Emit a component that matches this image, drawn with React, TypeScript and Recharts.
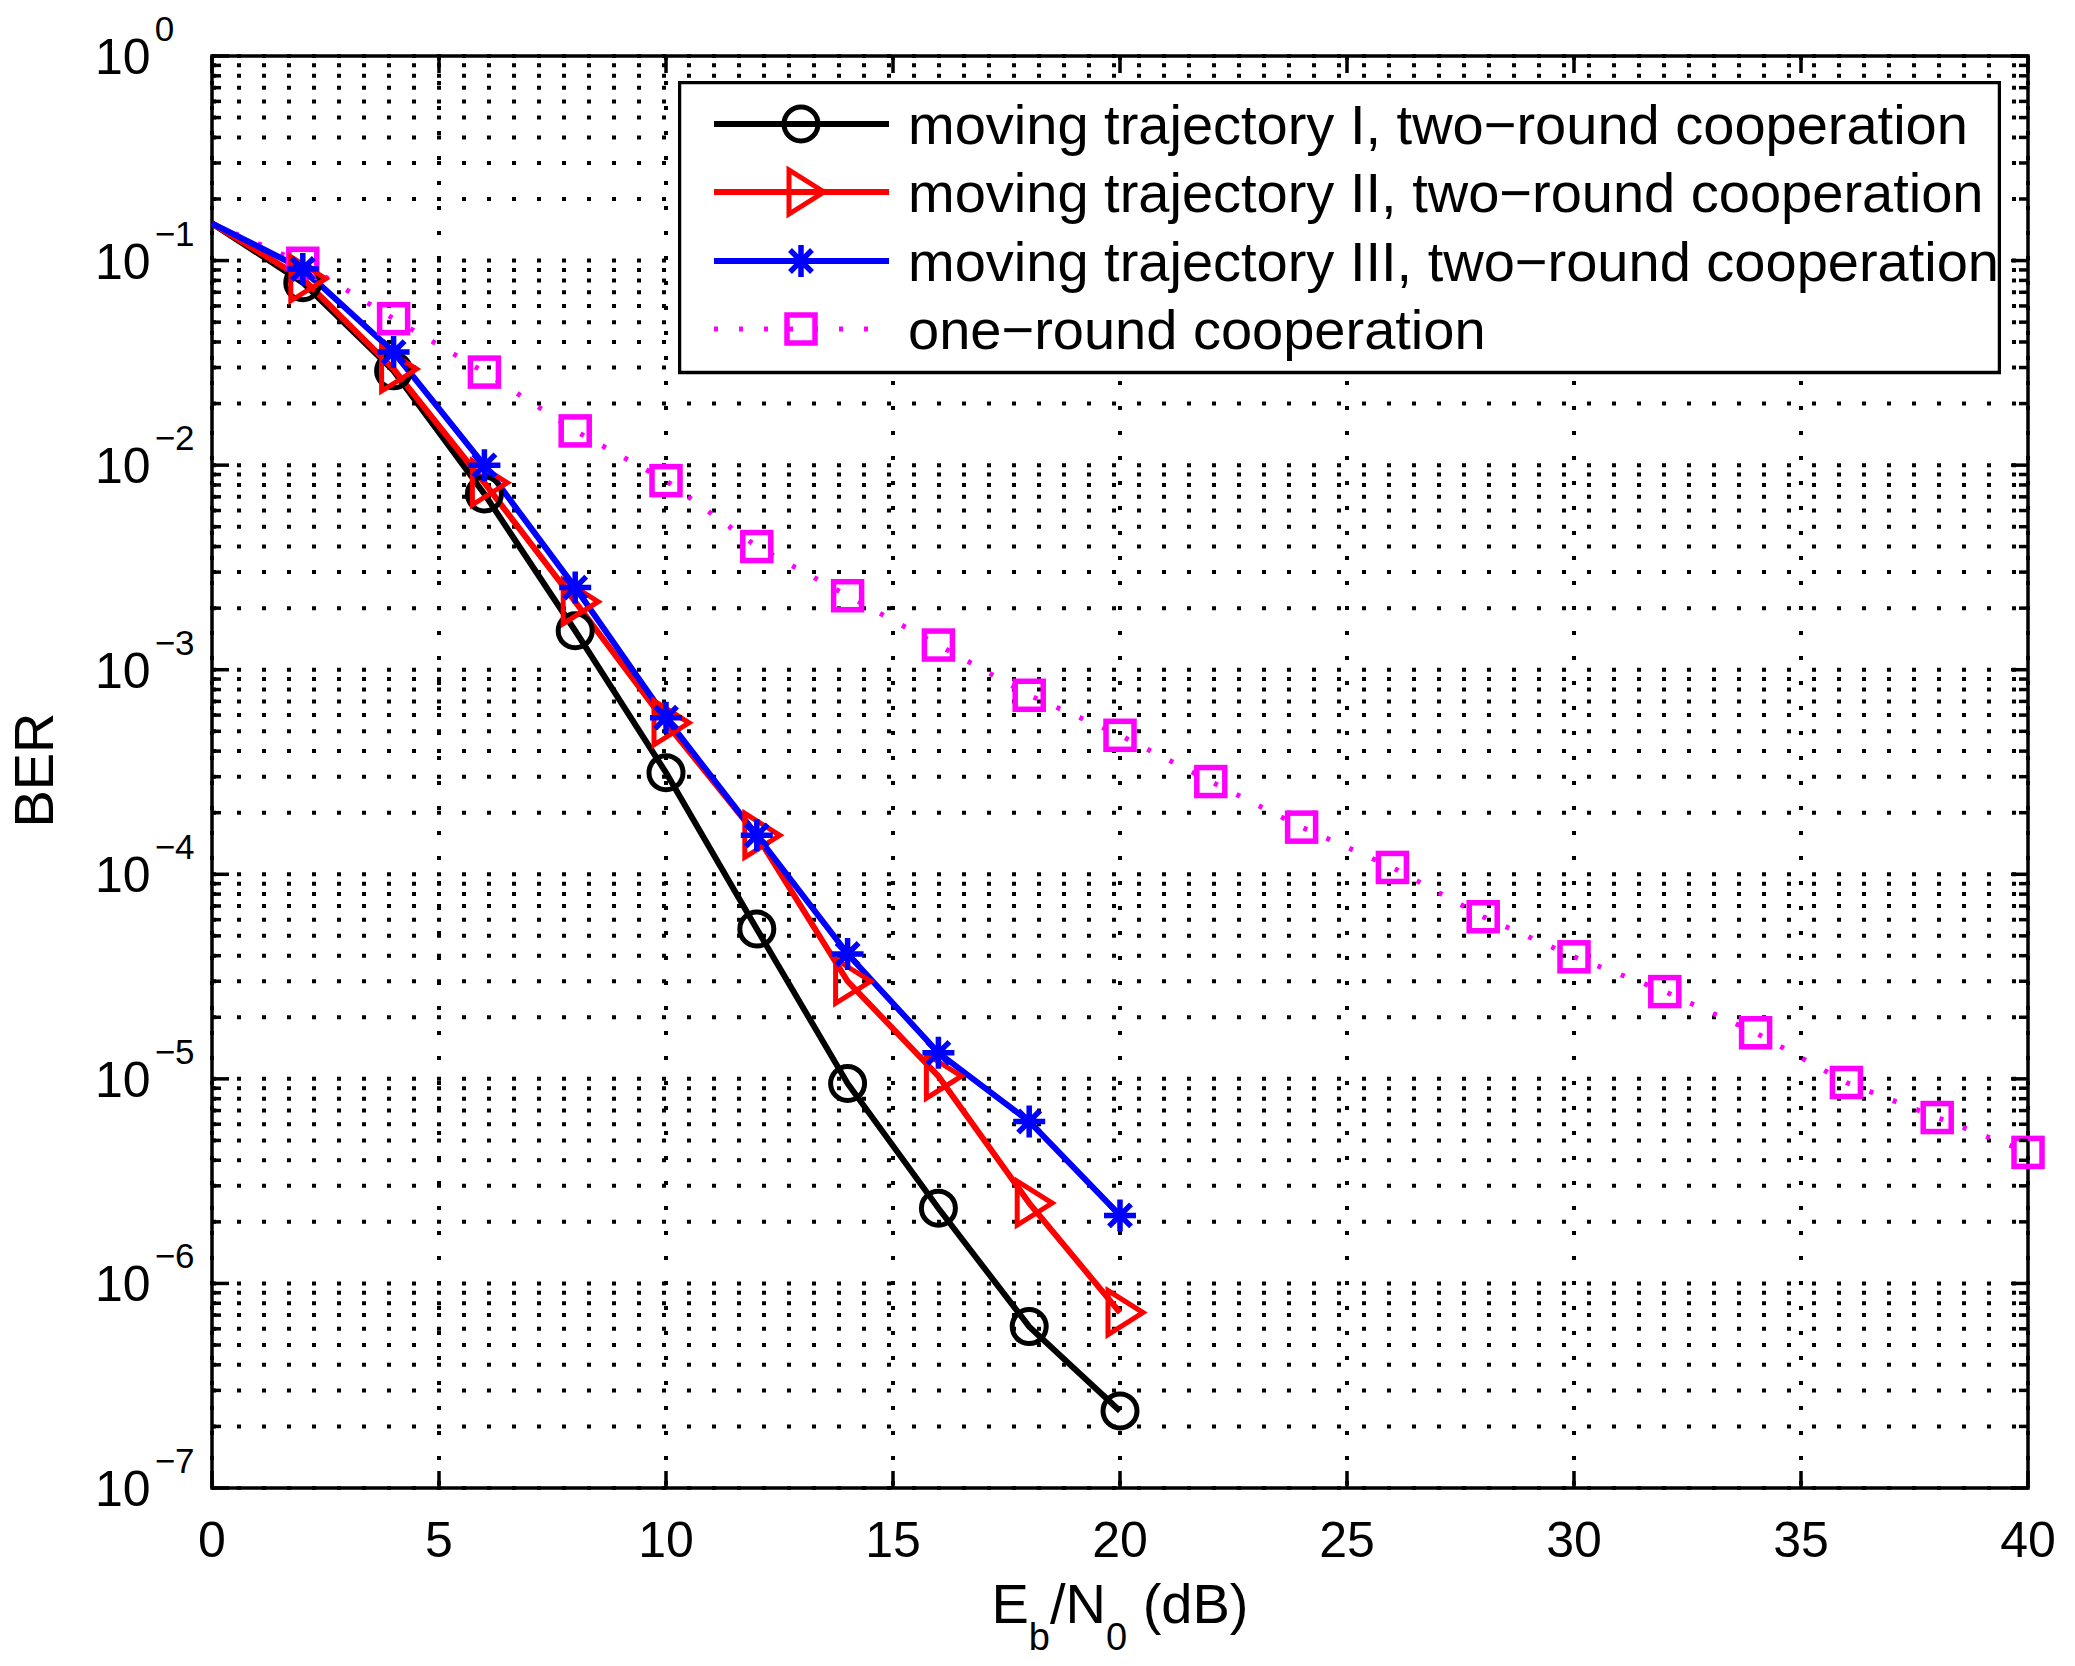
import React from "react";
import { ComposedChart, Line, XAxis, YAxis, CartesianGrid, ReferenceArea } from "recharts";

// Eb/N0 grid (dB)
const snrTwoRound = [0, 2, 4, 6, 8, 10, 12, 14, 16, 18, 20];
const snrOneRound = [0, 2, 4, 6, 8, 10, 12, 14, 16, 18, 20, 22, 24, 26, 28, 30, 32, 34, 36, 38, 40];

// BER values
const berTraj1 = [0.152, 0.078, 0.0289, 0.00723, 0.00155, 3.14e-4, 5.4e-5, 9.5e-6, 2.33e-6, 6.15e-7, 2.38e-7];
const berTraj2 = [0.152, 0.0815, 0.0295, 0.0082, 2.15e-3, 5.5e-4, 1.55e-4, 3.0e-5, 1.03e-5, 2.47e-6, 7.2e-7];
const berTraj3 = [0.152, 0.091, 0.0357, 0.00998, 2.52e-3, 5.83e-4, 1.55e-4, 4.08e-5, 1.34e-5, 6.19e-6, 2.15e-6];
const berOneRound = [
  0.152, 0.097, 0.052, 0.0285, 0.0147, 0.0084, 0.004, 2.3e-3, 1.32e-3, 7.5e-4, 4.78e-4,
  2.84e-4, 1.7e-4, 1.08e-4, 6.2e-5, 3.95e-5, 2.67e-5, 1.68e-5, 9.6e-6, 6.47e-6, 4.37e-6,
];

const seriesNames = [
  "moving trajectory I, two\u2212round cooperation",
  "moving trajectory II, two\u2212round cooperation",
  "moving trajectory III, two\u2212round cooperation",
  "one\u2212round cooperation",
];

const xTicks = [0, 5, 10, 15, 20, 25, 30, 35, 40];
const decades = [-7, -6, -5, -4, -3, -2, -1];
const yTicks = [...decades.flatMap((e) => [1, 2, 3, 4, 5, 6, 7, 8, 9].map((m) => Number((m * Math.pow(10, e)).toPrecision(3)))), 1];

const W = 2075;
const H = 1666;
const LEFT = 212;
const RIGHT = 2028;
const TOP = 56;
const BOTTOM = 1488;
const FONT = "'Liberation Sans', Arial, Helvetica, sans-serif";

const rows = snrOneRound.map((x, i) => {
  const j = snrTwoRound.indexOf(x);
  return {
    x,
    one: berOneRound[i],
    t1: j >= 0 ? berTraj1[j] : null,
    t2: j >= 0 ? berTraj2[j] : null,
    t3: j >= 0 ? berTraj3[j] : null,
  };
});

type Kind = "circle" | "tri" | "star" | "square";

function Marker({ kind, cx, cy, color }: { kind: Kind; cx: number; cy: number; color: string }) {
  if (kind === "circle") return <circle cx={cx} cy={cy} r={17} fill="none" stroke={color} strokeWidth={5} />;
  if (kind === "tri")
    return (
      <polygon
        points={`${cx - 12},${cy - 22} ${cx - 12},${cy + 22} ${cx + 23},${cy}`}
        fill="none"
        stroke={color}
        strokeWidth={5}
      />
    );
  if (kind === "star") {
    const a = 16;
    const d = 11;
    return (
      <path
        d={`M${cx - a},${cy}H${cx + a}M${cx},${cy - a}V${cy + a}M${cx - d},${cy - d}L${cx + d},${cy + d}M${cx - d},${cy + d}L${cx + d},${cy - d}`}
        stroke={color}
        strokeWidth={5.5}
        fill="none"
      />
    );
  }
  return <rect x={cx - 14} y={cy - 14} width={28} height={28} fill="none" stroke={color} strokeWidth={5.5} />;
}

function makeDot(kind: Kind, color: string) {
  return (p: any) => {
    const k = `${kind}-${p.index}`;
    if (p.cx == null || p.cy == null || p.value == null || p.payload?.x === 0) return <g key={k} />;
    return (
      <g key={k}>
        <Marker kind={kind} cx={p.cx} cy={p.cy} color={color} />
      </g>
    );
  };
}

function YTick(p: any) {
  const v = p.payload.value;
  const e = Math.floor(Math.log10(v) + 1e-9);
  const m = Math.round(v / Math.pow(10, e));
  const major = m === 1;
  const len = major ? 17 : 9;
  const y = p.y;
  return (
    <g>
      <line x1={LEFT} x2={LEFT + len} y1={y} y2={y} stroke="#000" strokeWidth={3.5} />
      <line x1={RIGHT - len} x2={RIGHT} y1={y} y2={y} stroke="#000" strokeWidth={3.5} />
      {major && (
        <text x={95} y={y + 18} fontSize={50} fontFamily={FONT} fill="#000">
          10
          <tspan dx={4} dy={-33} fontSize={35}>
            {e < 0 ? `\u2212${-e}` : `${e}`}
          </tspan>
        </text>
      )}
    </g>
  );
}

function XTick(p: any) {
  const x = p.x;
  return (
    <g>
      <line x1={x} x2={x} y1={BOTTOM} y2={BOTTOM - 17} stroke="#000" strokeWidth={3.5} />
      <line x1={x} x2={x} y1={TOP} y2={TOP + 17} stroke="#000" strokeWidth={3.5} />
      <text x={x} y={1557} textAnchor="middle" fontSize={50} fontFamily={FONT} fill="#000">
        {p.payload.value}
      </text>
    </g>
  );
}

function XTitle() {
  return (
    <text x={(LEFT + RIGHT) / 2} y={1623} textAnchor="middle" fontSize={56} fontFamily={FONT} fill="#000">
      E
      <tspan dy={27} fontSize={38}>b</tspan>
      <tspan dy={-27}>/N</tspan>
      <tspan dy={27} fontSize={38}>0</tspan>
      <tspan dy={-27}> (dB)</tspan>
    </text>
  );
}

function YTitle() {
  return (
    <text x={53} y={770} transform="rotate(-90 53 770)" textAnchor="middle" fontSize={56} fontFamily={FONT} fill="#000">
      BER
    </text>
  );
}

const legendItems: { kind: Kind; color: string; dotted: boolean }[] = [
  { kind: "circle", color: "#000000", dotted: false },
  { kind: "tri", color: "#ff0000", dotted: false },
  { kind: "star", color: "#0000ff", dotted: false },
  { kind: "square", color: "#ff00ff", dotted: true },
];

function LegendBox() {
  const rowsY = [43, 111, 180, 248];
  return (
    <svg width={1323} height={294} style={{ position: "absolute", left: 678, top: 81 }}>
      <rect x={1.5} y={1.5} width={1320} height={290} fill="#fff" stroke="#000" strokeWidth={3.5} />
      {legendItems.map((it, i) => (
        <g key={i}>
          <line
            x1={36}
            x2={211}
            y1={rowsY[i]}
            y2={rowsY[i]}
            stroke={it.color}
            strokeWidth={it.dotted ? 5 : 6}
            strokeDasharray={it.dotted ? "4 21" : undefined}
          />
          <Marker kind={it.kind} cx={123} cy={rowsY[i]} color={it.color} />
          <text x={230} y={rowsY[i] + 20} fontSize={56} fontFamily={FONT} fill="#000">
            {seriesNames[i]}
          </text>
        </g>
      ))}
    </svg>
  );
}

export default function App() {
  return (
    <div style={{ position: "absolute", left: 0, top: 0, width: W, height: H, background: "#fff" }}>
      <ComposedChart width={W} height={H} data={rows} margin={{ top: TOP, right: W - RIGHT, bottom: 0, left: 0 }}>
        <CartesianGrid stroke="#000" strokeWidth={4} strokeDasharray="4 21" />
        <XAxis
          dataKey="x"
          type="number"
          domain={[0, 40]}
          ticks={xTicks}
          interval={0}
          height={H - BOTTOM}
          tickSize={0}
          tickMargin={0}
          tickLine={false}
          axisLine={false}
          tick={<XTick />}
          label={<XTitle />}
        />
        <YAxis
          type="number"
          scale="log"
          domain={[1e-7, 1]}
          allowDataOverflow
          ticks={yTicks}
          interval={0}
          width={LEFT}
          tickSize={0}
          tickMargin={0}
          tickLine={false}
          axisLine={false}
          tick={<YTick />}
          label={<YTitle />}
        />
        <ReferenceArea x1={0} x2={40} y1={1e-7} y2={1} fill="none" stroke="#000" strokeWidth={3.5} fillOpacity={0} />
        <Line
          dataKey="one"
          type="linear"
          stroke="#ff00ff"
          strokeWidth={5}
          strokeDasharray="4 21"
          dot={makeDot("square", "#ff00ff")}
          isAnimationActive={false}
        />
        <Line dataKey="t1" type="linear" stroke="#000000" strokeWidth={6} dot={makeDot("circle", "#000000")} isAnimationActive={false} />
        <Line dataKey="t2" type="linear" stroke="#ff0000" strokeWidth={6} dot={makeDot("tri", "#ff0000")} isAnimationActive={false} />
        <Line dataKey="t3" type="linear" stroke="#0000ff" strokeWidth={6} dot={makeDot("star", "#0000ff")} isAnimationActive={false} />
      </ComposedChart>
      <LegendBox />
    </div>
  );
}
